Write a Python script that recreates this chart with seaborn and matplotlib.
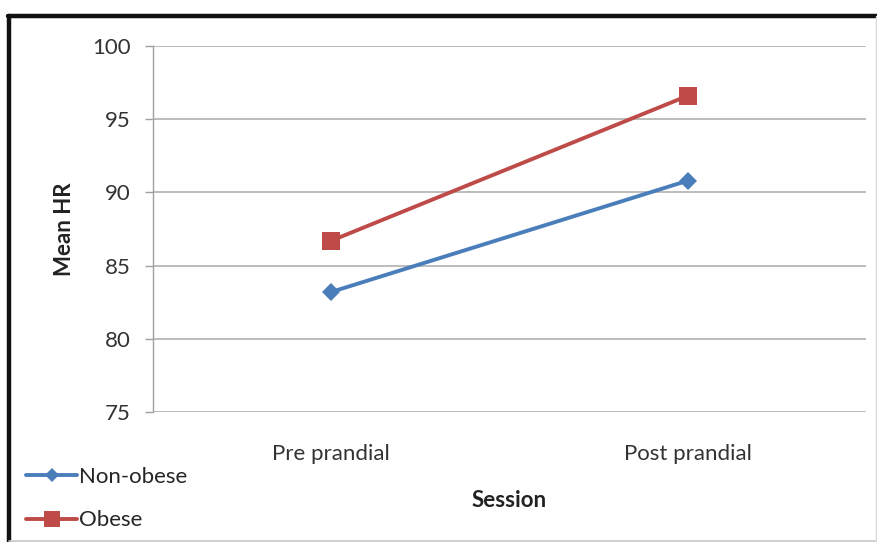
import matplotlib
matplotlib.use("Agg")
import matplotlib.pyplot as plt
from matplotlib.lines import Line2D
import seaborn as sns
import pandas as pd

sessions = ["Pre prandial", "Post prandial"]
non_obese = [83.2, 90.8]
obese = [86.7, 96.6]
groups = ["Non-obese", "Obese"]
y_ticks = [75, 80, 85, 90, 95, 100]

df = pd.DataFrame({
    "Session": sessions * 2,
    "Mean HR": non_obese + obese,
    "Group": [groups[0]] * 2 + [groups[1]] * 2,
})

sns.set_theme(style="white")
plt.rcParams["font.family"] = ["Lato", "DejaVu Sans"]

colors = {"Non-obese": "#4a7ebb", "Obese": "#be4b48"}
markers = {"Non-obese": "D", "Obese": "s"}
sizes = {"Non-obese": 9, "Obese": 12.5}
FS = 16

fig = plt.figure(figsize=(8.77, 5.42), dpi=100)
ax = fig.add_axes([153 / 877, 1 - 412 / 542, (866 - 153) / 877, (412 - 46) / 542])

df["x"] = df["Session"].map({s: i for i, s in enumerate(sessions)})
for g in groups:
    sub = df[df["Group"] == g]
    sns.lineplot(data=sub, x="x", y="Mean HR", ax=ax, color=colors[g],
                 marker=markers[g], markersize=sizes[g], markeredgewidth=0,
                 linewidth=2.8, legend=False)

ax.set_xlim(-0.5, 1.5)
ax.set_ylim(75, 100)
ax.set_yticks(y_ticks)
ax.set_yticklabels([str(t) for t in y_ticks], fontsize=FS, color="#333333")
ax.set_xticks([0, 1])
ax.set_xticklabels(sessions, fontsize=FS, color="#333333")
ax.tick_params(axis="x", length=0, pad=23)
ax.tick_params(axis="y", length=6, width=1, color="#a0a0a0", direction="out", left=True, pad=10)
ax.yaxis.grid(True, color="#b0b0b0", linewidth=1.2)
ax.set_axisbelow(True)
for side in ["top", "right", "bottom"]:
    ax.spines[side].set_visible(False)
ax.spines["left"].set_color("#a0a0a0")
ax.spines["left"].set_linewidth(1)

ax.set_xlabel("Session", fontsize=FS, fontweight="bold", labelpad=19, color="#222222")
ax.set_ylabel("Mean HR", fontsize=FS, fontweight="bold", labelpad=12.5, color="#222222")

handles = [Line2D([0], [0], color=colors[g], marker=markers[g], markersize=sizes[g] - 1.5,
                  markeredgewidth=0, linewidth=2.8) for g in groups]
fig.legend(handles, groups, loc="upper left", bbox_to_anchor=(26 / 877, 1 - 467 / 542),
           frameon=False, fontsize=FS, handlelength=2.3, handletextpad=0.1,
           labelspacing=1.05, borderaxespad=0, borderpad=0)

# outer frame of the chart
fig.add_artist(Line2D([8 / 877, 1], [1 - 16 / 542, 1 - 16 / 542], transform=fig.transFigure,
                      color="#111111", linewidth=3.2))
fig.add_artist(Line2D([9 / 877, 9 / 877], [0, 1 - 16 / 542], transform=fig.transFigure,
                      color="#111111", linewidth=3.2))
fig.add_artist(Line2D([9 / 877, 1], [1.5 / 542, 1.5 / 542], transform=fig.transFigure,
                      color="#c8c8c8", linewidth=1.2))
fig.add_artist(Line2D([875.5 / 877, 875.5 / 877], [0, 1 - 16 / 542], transform=fig.transFigure,
                      color="#d8d8d8", linewidth=1.0))

fig.savefig("out.png", dpi=100)
